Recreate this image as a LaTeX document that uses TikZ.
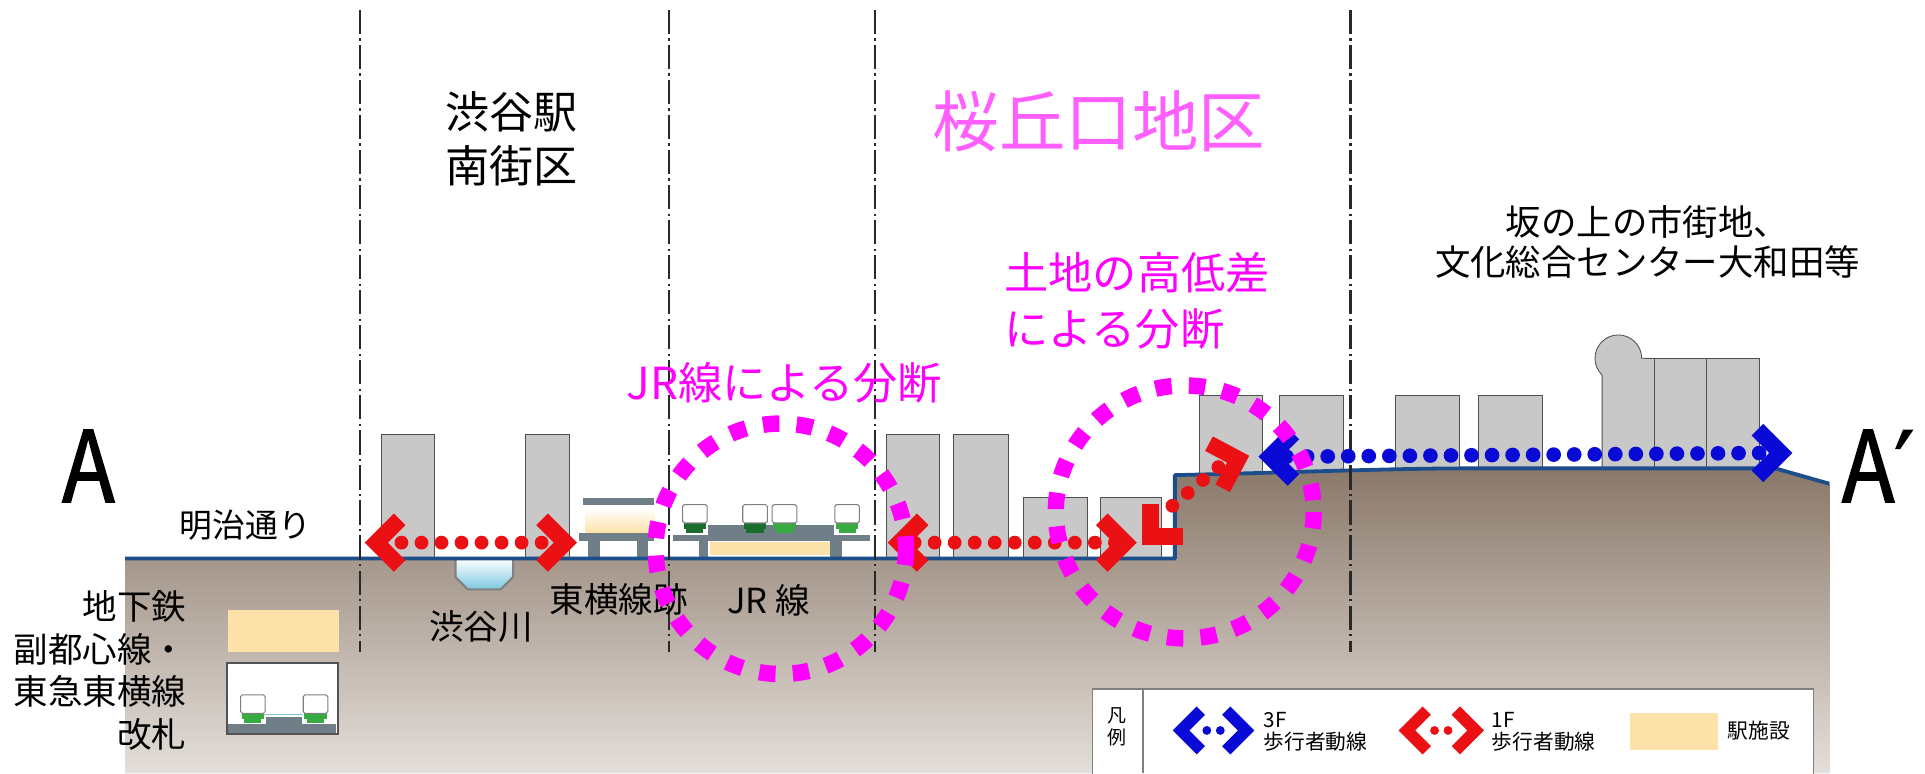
\documentclass[tikz,border=0pt]{standalone}
\usepackage{fontspec}
\setmainfont{Noto Sans CJK JP}
\newfontfamily\markfont[FakeBold=1.6]{Noto Sans CJK JP}
\newfontfamily\symfont[FakeBold=1.6]{DejaVu Sans}
\usepackage{tikz}

\begin{document}
\begin{tikzpicture}[
    x=0.025cm,
    y=-0.025cm,
    font=\fontsize{20}{24}\selectfont
]

% =========================================================
% Colors
% =========================================================
\definecolor{groundtop}{RGB}{138,120,106}
\definecolor{groundbot}{RGB}{228,223,218}
\definecolor{groundline}{RGB}{28,78,140}
\definecolor{bldgfill}{RGB}{200,200,200}
\definecolor{bldgedge}{RGB}{80,80,80}
\definecolor{slabgray}{RGB}{112,126,136}
\definecolor{stationbeige}{RGB}{252,226,168}
\definecolor{waterblue}{RGB}{125,200,225}
\definecolor{walkred}{RGB}{234,16,20}
\definecolor{walkblue}{RGB}{10,10,215}
\definecolor{cutmagenta}{RGB}{255,0,255}
\definecolor{areapink}{RGB}{255,95,255}
\definecolor{traindark}{RGB}{25,110,45}
\definecolor{trainlight}{RGB}{55,170,65}
\definecolor{zoneline}{RGB}{40,40,40}

% =========================================================
% Styles
% =========================================================
\tikzset{
    bldg/.style={fill=bldgfill,draw=bldgedge,line width=0.5pt},
    slab/.style={fill=slabgray},
    zonedash/.style={zoneline,line width=1.3pt,
        dash pattern=on 14pt off 2.5pt on 1.3pt off 2.5pt},
    groundedge/.style={groundline,line width=2.2pt,line join=round},
    redchev/.style={draw=walkred,line width=9.5pt,line join=miter},
    bluechev/.style={draw=walkblue,line width=9.5pt,line join=miter},
    reddots/.style={walkred,line width=8pt,line cap=round,
        dash pattern=on 0pt off 11.6pt},
    bluedots/.style={walkblue,line width=8.5pt,line cap=round,
        dash pattern=on 0pt off 11.9pt},
    cutring/.style={cutmagenta,line width=9.5pt,
        dash pattern=on 9.5pt off 10pt},
    cuttext/.style={cutmagenta,font=\fontsize{25.6}{32.7}\selectfont},
    keytext/.style={font=\fontsize{12}{12.8}\selectfont,inner sep=0pt},
    endmark/.style={font=\markfont\fontsize{57}{60}\selectfont,xscale=0.88,inner sep=0pt},
    chevron/.pic={\draw[pic actions] (-19,-19) -- (0,0) -- (-19,19);},
    train/.pic={
        \fill[pic actions] (1,15) rectangle (19,20);
        \fill[pic actions] (3,20) rectangle (17,23);
        \draw[fill=white,draw=gray,line width=0.6pt,rounded corners=1pt]
            (0,0) rectangle (20,15);
    }
}

\fill[white] (0,0) rectangle (1568,630);
\useasboundingbox (0,0) rectangle (1568,630);

% =========================================================
% Buildings
% =========================================================
% Shibuya station south block
\draw[bldg] (311,354) rectangle (354,458);
\draw[bldg] (428,354) rectangle (464,458);
% Sakuragaoka, lower street
\draw[bldg] (722,354) rectangle (765,458);
\draw[bldg] (777,354) rectangle (821,458);
\draw[bldg] (834,405) rectangle (886,458);
\draw[bldg] (896,405) rectangle (946,458);
% Sakuragaoka, upper terrace
\draw[bldg] (977,322) rectangle (1028,392);
\draw[bldg] (1042,322) rectangle (1094,392);
% hilltop town
\draw[bldg] (1137,322) rectangle (1189,392);
\draw[bldg] (1204,322) rectangle (1256,392);
\draw[bldg] (1305,392) -- (1305,305.5)
    arc[start angle=134,end angle=360,radius=19] -- (1348,292) -- (1348,392);
\draw[bldg] (1348,292) rectangle (1390,392);
\draw[bldg] (1390,292) rectangle (1433,392);

% =========================================================
% Ground
% =========================================================
\path[top color=groundtop,bottom color=groundbot]
    (102,455) -- (957,455) -- (957,387)
    .. controls (1050,385) and (1130,381.5) .. (1200,381.5)
    -- (1446,381.5) -- (1490,394) -- (1490,630) -- (102,630) -- cycle;

% Shibuya river culvert
\draw[draw=gray,line width=1.2pt,top color=white,bottom color=waterblue]
    (371,455) -- (371,470) -- (381,480) -- (408,480) -- (418,470) -- (418,455);

% old Toyoko line station
\fill[slab] (475,406) rectangle (533,411);
\fill[top color=white,bottom color=stationbeige] (477,414) rectangle (533,434);
\fill[slab] (472,434) rectangle (533,441);
\fill[slab] (479,441) rectangle (489,455);
\fill[slab] (519,441) rectangle (528,455);

% JR line
\fill[slab] (577,428) rectangle (679,436);
\fill[slab] (548,436) rectangle (709,441);
\fill[slab] (569,441) rectangle (577,455);
\fill[slab] (676,441) rectangle (686,455);
\fill[stationbeige] (578,441.5) rectangle (676,452);
\pic[fill=traindark] at (556,411) {train};
\pic[fill=traindark] at (605,411) {train};
\pic[fill=trainlight] at (629,411) {train};
\pic[fill=trainlight] at (680,411) {train};

% ground surface
\draw[groundedge] (102,455) -- (957,455) -- (957,387)
    .. controls (1050,385) and (1130,381.5) .. (1200,381.5)
    -- (1446,381.5) -- (1490,394);

% district borders
\draw[zonedash] (293,8) -- (293,531);
\draw[zonedash] (545,8) -- (545,531);
\draw[zonedash] (713,8) -- (713,531);
\draw[zonedash] (1100,8) -- (1100,531);

% =========================================================
% Underground key (left)
% =========================================================
\fill[stationbeige] (186,497) rectangle (276,531);
\draw[fill=white,draw=zoneline!80,line width=1.2pt] (185,540) rectangle (275,598);
\fill[slab] (186,590) rectangle (274,597);
\fill[slab] (217,584) rectangle (246,590);
\draw[waterblue,line width=1pt] (214,582) -- (247,582);
\pic[fill=trainlight] at (196,566) {train};
\pic[fill=trainlight] at (247,566) {train};
\node[align=right,anchor=east,inner sep=0pt,font=\fontsize{20}{24.7}\selectfont]
    (subwaykey) at (152,546) {地下鉄\\副都心線・\\東急東横線\\改札};

% =========================================================
% Pedestrian routes
% =========================================================
% 1F, station south block
\draw[reddots] (327,442) -- (443,442);
\pic[redchev,rotate=180] at (306.5,442) {chevron};
\pic[redchev] at (460.5,442) {chevron};
% 1F, lower Sakuragaoka
\draw[reddots] (745,442) -- (909,442);
\pic[redchev,rotate=180] at (732.5,442) {chevron};
\pic[redchev] at (916.5,442) {chevron};
% 1F, up the slope
\draw[reddots] (955,412) -- (993,380);
\pic[redchev,rotate=225] at (937,437) {chevron};
\pic[redchev,rotate=17] at (1008.5,374) {chevron};
% 3F, along the hilltop
\draw[bluedots] (1048,372) -- (1434,369);
\pic[bluechev,rotate=180] at (1034.5,372) {chevron};
\pic[bluechev] at (1450.5,369) {chevron};

% =========================================================
% Labels
% =========================================================
\node[endmark,anchor=base] (pointA) at (72,409) {A};
\node[endmark,anchor=base west] (pointB) at (1500,409) {A{\symfont ′}};

\node[align=center,font=\fontsize{25.5}{31.3}\selectfont]
    (southblock) at (417,113) {渋谷駅\\南街区};
\node[areapink,font=\fontsize{38.5}{40}\selectfont]
    (sakuragaoka) at (895,99) {桜丘口地区};
\node[align=center,font=\fontsize{20.5}{22.8}\selectfont]
    (hilltown) at (1342,197) {坂の上の市街地、\\文化総合センター大和田等};
\node[cuttext,align=left,anchor=west,inner sep=0pt]
    (slopecut) at (818,245) {土地の高低差\\による分断};
\node[cuttext,anchor=west,inner sep=0pt]
    (jrcut) at (510,312) {JR線による分断};

\node[font=\fontsize{19}{22}\selectfont] (meiji) at (200,428) {明治通り};
\node (river) at (392,510) {渋谷川};
\node (toyoko) at (504,488) {東横線跡};
\node (jrline) at (626,489) {JR 線};

% divides
\draw[cutring] (636,447) circle[radius=102];
\draw[cutring] (965,417) ellipse[x radius=105,y radius=103];

% =========================================================
% Legend
% =========================================================
\draw[fill=white,draw=gray,line width=0.9pt] (890,561) rectangle (1477,640);
\draw[gray,line width=0.9pt] (931,561) -- (931,630);
\node[align=center,font=\fontsize{11}{13.2}\selectfont]
    (legendtitle) at (909.5,592) {凡\\例};

\pic[bluechev,line width=6.8pt,scale=0.85,rotate=180] at (962,595) {chevron};
\pic[bluechev,line width=6.8pt,scale=0.85] at (1015,595) {chevron};
\fill[walkblue] (983,595) circle[radius=3.6];
\fill[walkblue] (994,595) circle[radius=3.6];
\node[keytext,align=left,anchor=west] (bluekey) at (1029,596) {3F\\歩行者動線};

\pic[redchev,line width=6.8pt,scale=0.85,rotate=180] at (1146,595) {chevron};
\pic[redchev,line width=6.8pt,scale=0.85] at (1202,595) {chevron};
\fill[walkred] (1168.5,595) circle[radius=3.6];
\fill[walkred] (1179.5,595) circle[radius=3.6];
\node[keytext,align=left,anchor=west] (redkey) at (1215,596) {1F\\歩行者動線};

\fill[stationbeige] (1328,581) rectangle (1399,611);
\node[keytext,anchor=west] (stationkey) at (1407,595) {駅施設};

\end{tikzpicture}
\end{document}
